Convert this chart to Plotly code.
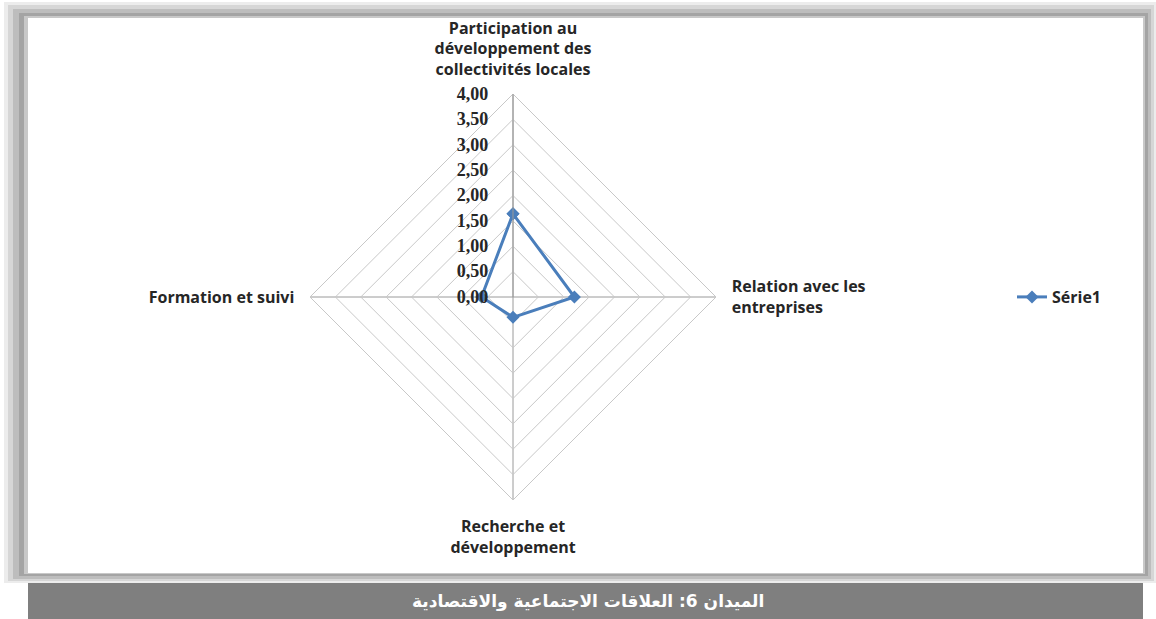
import plotly.graph_objects as go

categories = [
    "Participation au<br>développement des<br>collectivités locales",
    "Relation avec les<br>entreprises",
    "Recherche et<br>développement",
    "Formation et suivi",
]
serie1 = [1.64, 1.21, 0.40, 0.62]
series_name = "Série1"
caption = "الميدان 6: العلاقات الاجتماعية والاقتصادية"

W, H = 1156, 619
def px(x):
    return x / W
def py(y):
    return 1 - y / H

fig = go.Figure()
fig.add_trace(go.Scatterpolar(
    r=serie1 + serie1[:1],
    theta=categories + categories[:1],
    mode="lines+markers",
    name=series_name,
    line=dict(color="#4A7EBB", width=3),
    marker=dict(symbol="diamond", size=10, color="#4A7EBB"),
))

cx, cy, R = 513, 297, 203
shapes = []
for (x0, y0, x1, y1, c) in [
    (4, 2, 1156, 583, "#ececec"),
    (8, 5, 1154, 581, "#d6d6d6"),
    (13, 9, 1151, 579, "#bdbdbd"),
    (19, 13, 1148, 576, "#a4a4a4"),
    (24, 16, 1145, 574, "#c8c8c8"),
    (28, 18, 1143, 573, "#ffffff"),
]:
    shapes.append(dict(type="rect", xref="paper", yref="paper",
                       x0=px(x0), x1=px(x1), y0=py(y1), y1=py(y0),
                       fillcolor=c, line=dict(width=0), layer="below"))
shapes.append(dict(type="rect", xref="paper", yref="paper",
                   x0=px(28), x1=px(1143), y0=py(619), y1=py(583),
                   fillcolor="#7f7f7f", line=dict(width=0), layer="below"))

lab_font = dict(family="Open Sans, Lato, sans-serif", size=16, color="#262626", weight="bold")
num_font = dict(family="Liberation Serif, DejaVu Serif, serif", size=18, color="#262626", weight="bold")

fig.update_layout(
    width=W, height=H,
    margin=dict(l=0, r=0, t=0, b=0),
    paper_bgcolor="white",
    separators=", ",
    shapes=shapes,
    showlegend=True,
    legend=dict(x=px(1012), y=py(297), xanchor="left", yanchor="middle",
                bgcolor="rgba(0,0,0,0)", font=lab_font),
    polar=dict(
        domain=dict(x=[px(cx - R), px(cx + R)], y=[py(cy + R), py(cy - R)]),
        bgcolor="rgba(0,0,0,0)",
        gridshape="linear",
        angularaxis=dict(
            direction="clockwise", rotation=90,
            showgrid=True, gridcolor="#9a9a9a", gridwidth=1,
            showline=True, linecolor="#c8c8c8", linewidth=1,
            ticks="outside", ticklen=12, tickcolor="rgba(0,0,0,0)",
            tickfont=lab_font,
        ),
        radialaxis=dict(
            range=[0, 4], dtick=0.5, tick0=0, tickformat=".2f",
            angle=90, side="counterclockwise",
            showgrid=True, gridcolor="#c8c8c8", gridwidth=1,
            showline=True, linecolor="#9a9a9a", linewidth=1,
            ticks="outside", ticklen=18, tickcolor="rgba(0,0,0,0)",
            tickfont=num_font, tickangle=90,
        ),
    ),
    annotations=[dict(
        text=caption, xref="paper", yref="paper",
        x=px(588), y=py(601), xanchor="center", yanchor="middle",
        showarrow=False,
        font=dict(family="DejaVu Sans, sans-serif", size=17, color="white", weight="bold"),
    )],
)

fig.write_html(
    "out.html",
    config={"displayModeBar": False},
    post_script="document.body.style.margin='0';document.body.style.padding='0';",
)
